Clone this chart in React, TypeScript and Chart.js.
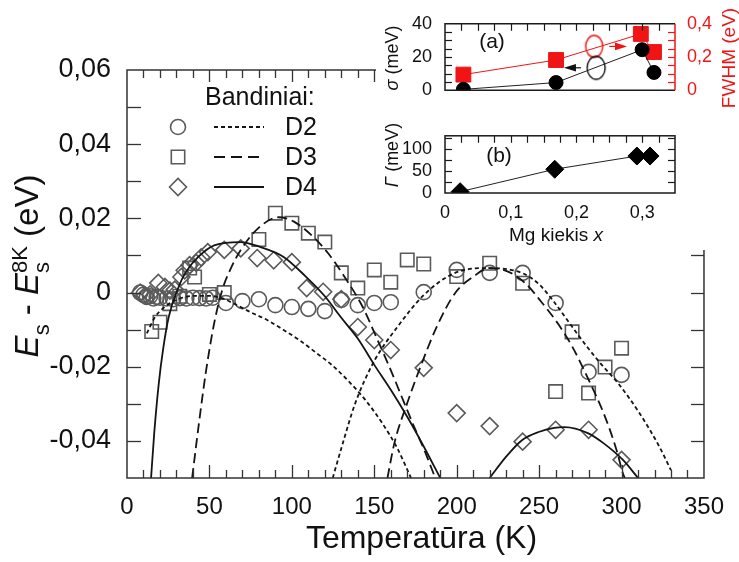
import React, { useEffect, useRef } from "react";
import { Chart, registerables } from "chart.js";

Chart.register(...registerables);

const FONT = "'Liberation Sans', Arial, Helvetica, sans-serif";
const RED = "#f01414";
const MARK = "#5a5a5a";
const INK = "#141414";

// ---------------- main panel: measured points (T in K, Es - Es8K in eV) ----------------
const d2Temp = [8, 10, 12, 14, 16, 18, 20, 24, 28, 32, 36, 40, 44, 48, 52, 60, 70, 80, 90, 100, 110, 120, 130, 140, 150, 160, 180, 200, 220, 240, 260, 280, 300];
const d2Shift = [0, -0.0006, -0.0012, -0.001, -0.0016, -0.0012, -0.0014, -0.0016, -0.0018, -0.0015, -0.0016, -0.0014, -0.0015, -0.0016, -0.0014, -0.0028, -0.0023, -0.0018, -0.0034, -0.0039, -0.0044, -0.005, -0.002, -0.0034, -0.0028, -0.0026, 0.0001, 0.0061, 0.0053, 0.0053, -0.0028, -0.0214, -0.0222];

const d3Temp = [15, 20, 26, 32, 38, 41, 50, 59, 80, 90, 100, 110, 120, 130, 140, 150, 160, 170, 180, 200, 220, 240, 260, 270, 280, 290, 300];
const d3Shift = [-0.0105, -0.008, -0.003, -0.001, 0.0066, 0.0042, -0.0005, 0.0, 0.0143, 0.0214, 0.0187, 0.016, 0.0136, 0.0053, 0.0012, 0.0061, 0.0028, 0.0088, 0.0077, 0.0043, 0.0079, 0.0025, -0.0267, -0.0106, -0.0271, -0.0201, -0.015];

const d4Temp = [8, 11, 14, 19, 23, 26, 29, 33, 35, 38, 42, 45, 49, 59, 69, 79, 89, 100, 109, 119, 130, 140, 150, 160, 180, 200, 220, 240, 260, 280, 300];
const d4Shift = [0, -0.0008, -0.0005, 0.0026, 0.0015, 0.0005, 0.0008, 0.0042, 0.006, 0.0074, 0.008, 0.0095, 0.0109, 0.0115, 0.0119, 0.0093, 0.0087, 0.0082, 0.0012, 0.0002, -0.0018, -0.0093, -0.0128, -0.0155, -0.0203, -0.0325, -0.036, -0.0402, -0.037, -0.037, -0.0451];

// ---------------- main panel: fitted curves ----------------
const d2FitLow = [[12, -0.011], [17, -0.0066], [22, -0.0042], [30, -0.002], [40, -0.0009], [50, -0.0009], [58, -0.0016], [64, -0.0028], [75, -0.0053], [85, -0.0074], [95, -0.0101], [104.5, -0.0128], [114.6, -0.0162], [124.7, -0.0197], [134.2, -0.0238], [144.3, -0.0288], [154.5, -0.035], [164, -0.042], [172.3, -0.05]];
const d2FitHigh = [[124.8, -0.05], [131, -0.0405], [138.4, -0.0299], [150.3, -0.0182], [164, -0.0093], [180, -0.0007], [199, 0.0053], [220, 0.0066], [240, 0.0052], [250, 0.0022], [259, -0.0025], [268, -0.008], [278, -0.014], [288, -0.0195], [298, -0.0245], [311, -0.0326], [323, -0.0416], [330, -0.0479]];
const d3FitLow = [[39.5, -0.05], [44, -0.034], [48, -0.021], [53, -0.008], [58, 0.001], [63, 0.0065], [69, 0.0115], [80, 0.0175], [92, 0.0203], [101, 0.0192], [113, 0.015], [122, 0.0106], [132, 0.0042], [143, -0.0039], [152, -0.0128], [160, -0.0209], [167, -0.0285], [174, -0.036], [181, -0.0432], [187, -0.05]];
const d3FitHigh = [[158, -0.05], [162.2, -0.0406], [170, -0.0298], [178.9, -0.019], [187.8, -0.0093], [199.1, -0.0001], [209.8, 0.0042], [220, 0.0066], [231.8, 0.0055], [241.4, 0.0026], [251.5, -0.0026], [261.6, -0.0085], [270, -0.0145], [280, -0.0235], [290, -0.0335], [297, -0.0425], [301, -0.049], [302, -0.05]];
const d4FitLow = [[14.6, -0.05], [16.5, -0.038], [19.3, -0.0244], [22, -0.015], [25.3, -0.0066], [31.3, 0.0015], [35.4, 0.0053], [43.2, 0.0096], [53.3, 0.0128], [68.8, 0.0136], [80.7, 0.0123], [95, 0.0096], [108, 0.0045], [120, -0.001], [130, -0.0068], [140, -0.0124], [150, -0.0195], [160, -0.0262], [170, -0.0335], [180, -0.0415], [190, -0.05]];
const d4FitHigh = [[220, -0.05], [229.5, -0.0445], [239.6, -0.0398], [249.7, -0.0376], [259.2, -0.0365], [265.4, -0.0363], [279.5, -0.0379], [289, -0.0406], [301, -0.0452], [310, -0.05]];

const mainXTicks = [0, 50, 100, 150, 200, 250, 300, 350];
const mainYTicks = [-0.04, -0.02, 0, 0.02, 0.04, 0.06];
const seriesNames = ["D2", "D3", "D4"];
const legendHeading = "Bandiniai:";
const xAxisTitle = "Temperatūra (K)";

// ---------------- inset data ----------------
const sigmaMg = [0.028, 0.169, 0.3, 0.318];
const sigmaMeV = [0.5, 4.6, 24.4, 10.7];
const fwhmMg = [0.028, 0.169, 0.298, 0.318];
const fwhmEV = [0.094, 0.182, 0.339, 0.23];
const sigmaOpen = [0.23, 13.5];
const fwhmOpen = [0.227, 0.264];
const sigmaArrow = [0.207, 0.181, 13.5];
const fwhmArrow = [0.25, 0.277, 0.264];
const gammaMg = [0.023, 0.167, 0.292, 0.312];
const gammaMeV = [3, 54, 84, 84];
const insetXTicks = [0, 0.1, 0.2, 0.3];
const sigmaTicks = [0, 10, 20, 30, 40];
const fwhmTicks = [0, 0.1, 0.2, 0.3, 0.4];
const gammaTicks = [0, 50, 100];

// ---------------- helpers ----------------
const pts = (xs: number[], ys: number[]) => xs.map((x, i) => ({ x, y: ys[i] }));
const pairPts = (p: number[][]) => p.map(([x, y]) => ({ x, y }));
const comma = (v: number, d: number) => (Math.abs(v) < 1e-9 ? "0" : v.toFixed(d).replace(".", ","));

const INSET_LEFT = 376;

function seg(ctx: CanvasRenderingContext2D, x1: number, y1: number, x2: number, y2: number) {
  ctx.beginPath();
  ctx.moveTo(x1, y1);
  ctx.lineTo(x2, y2);
  ctx.stroke();
}

function drawMarker(ctx: CanvasRenderingContext2D, kind: string, x: number, y: number) {
  ctx.save();
  ctx.strokeStyle = MARK;
  ctx.lineWidth = 1.6;
  ctx.setLineDash([]);
  ctx.beginPath();
  if (kind === "circle") ctx.arc(x, y, 7.5, 0, Math.PI * 2);
  else if (kind === "rect") ctx.rect(x - 6.7, y - 6.7, 13.4, 13.4);
  else {
    ctx.moveTo(x - 8.5, y);
    ctx.lineTo(x, y - 8.5);
    ctx.lineTo(x + 8.5, y);
    ctx.lineTo(x, y + 8.5);
    ctx.closePath();
  }
  ctx.stroke();
  ctx.restore();
}

type Part = { t: string; f: string; dy: number; stackWith?: boolean };

// draws rotated (reading bottom-to-top) rich text centred at cy with baseline at screen x = bx
function drawRotatedParts(ctx: CanvasRenderingContext2D, parts: Part[], bx: number, cy: number, color: string) {
  ctx.save();
  ctx.fillStyle = color;
  ctx.textBaseline = "alphabetic";
  ctx.textAlign = "left";
  const widths: number[] = [];
  let total = 0;
  parts.forEach((p, i) => {
    ctx.font = p.f;
    const w = ctx.measureText(p.t).width;
    widths.push(w);
    if (p.stackWith) {
      const prev = widths[i - 1];
      if (w > prev) total += w - prev;
    } else total += w;
  });
  ctx.translate(bx, cy);
  ctx.rotate(-Math.PI / 2);
  let x = -total / 2;
  let lastStart = x;
  let lastW = 0;
  parts.forEach((p, i) => {
    ctx.font = p.f;
    if (p.stackWith) {
      ctx.fillText(p.t, lastStart, p.dy);
      const w = Math.max(lastW, widths[i]);
      x = lastStart + w;
    } else {
      ctx.fillText(p.t, x, p.dy);
      lastStart = x;
      lastW = widths[i];
      x += widths[i];
    }
  });
  ctx.restore();
}

function drawArrow(ctx: CanvasRenderingContext2D, x0: number, y: number, x1: number, color: string) {
  const dir = Math.sign(x1 - x0);
  ctx.save();
  ctx.strokeStyle = color;
  ctx.fillStyle = color;
  ctx.lineWidth = 1.2;
  seg(ctx, x0, y, x1 - dir * 8, y);
  ctx.beginPath();
  ctx.moveTo(x1, y);
  ctx.lineTo(x1 - dir * 12, y - 3.8);
  ctx.lineTo(x1 - dir * 12, y + 3.8);
  ctx.closePath();
  ctx.fill();
  ctx.restore();
}

function ellipseImage(w: number, h: number, color: string) {
  const c = document.createElement("canvas");
  c.width = w + 4;
  c.height = h + 4;
  const g = c.getContext("2d")!;
  g.strokeStyle = color;
  g.lineWidth = 1.4;
  g.beginPath();
  g.ellipse(c.width / 2, c.height / 2, w / 2, h / 2, 0, 0, Math.PI * 2);
  g.stroke();
  return c;
}

// ---------------- main chart ----------------
const mainDecor = {
  id: "mainDecor",
  afterDatasetsDraw(chart: any) {
    const { ctx, chartArea, scales } = chart;
    const { left, right, top, bottom } = chartArea;
    const xs = scales.x;
    const ys = scales.y;
    ctx.save();
    ctx.strokeStyle = "#333";
    ctx.lineWidth = 1.5;
    ctx.setLineDash([]);
    ctx.strokeRect(left, top, right - left, bottom - top);
    ctx.lineWidth = 1.3;
    for (let t = 10; t < 350; t += 10) {
      const px = Math.round(xs.getPixelForValue(t)) + 0.5;
      const major = t % 50 === 0;
      seg(ctx, px, bottom, px, bottom - (major ? 13 : 8));
      seg(ctx, px, top, px, top + (major ? 12 : 8));
    }
    for (let k = -4; k <= 5; k++) {
      const py = Math.round(ys.getPixelForValue(k / 100)) + 0.5;
      seg(ctx, left, py, left + 14, py);
      seg(ctx, right, py, right - 13, py);
    }
    ctx.restore();
  },
  afterDraw(chart: any) {
    const { ctx, chartArea } = chart;
    ctx.save();
    // legend
    ctx.fillStyle = "#111";
    ctx.textAlign = "left";
    ctx.textBaseline = "middle";
    ctx.font = `25px ${FONT}`;
    ctx.fillText(legendHeading, 205, 98);
    const rows = [127, 157, 187];
    const kinds = ["circle", "rect", "rectRot"];
    const dashes = [[4, 3], [11, 6], []];
    rows.forEach((ry, i) => {
      drawMarker(ctx, kinds[i], 178, ry);
      ctx.strokeStyle = INK;
      ctx.lineWidth = 2;
      ctx.setLineDash(dashes[i]);
      seg(ctx, 214, ry, 264, ry);
      ctx.setLineDash([]);
      ctx.font = `25px ${FONT}`;
      ctx.fillText(seriesNames[i], 285, ry + 1);
    });
    // x title
    ctx.textAlign = "center";
    ctx.textBaseline = "alphabetic";
    ctx.font = `32px ${FONT}`;
    ctx.fillText(xAxisTitle, (chartArea.left + chartArea.right) / 2 + 6, 548);
    ctx.restore();
    // y title  E_s - E_s^8K (eV)
    const big = `33px ${FONT}`;
    const bigI = `italic 33px ${FONT}`;
    const small = `22px ${FONT}`;
    drawRotatedParts(
      ctx,
      [
        { t: "E", f: bigI, dy: 0 },
        { t: "s", f: small, dy: 11 },
        { t: " - ", f: big, dy: 0 },
        { t: "E", f: bigI, dy: 0 },
        { t: "s", f: small, dy: 11 },
        { t: "8K", f: small, dy: -11, stackWith: true },
        { t: " (eV)", f: big, dy: 0 },
      ],
      38,
      266,
      "#111"
    );
  },
};

function makeMain(canvas: HTMLCanvasElement) {
  const marker = {
    showLine: false,
    borderColor: MARK,
    backgroundColor: "rgba(0,0,0,0)",
    pointBorderColor: MARK,
    pointBackgroundColor: "rgba(0,0,0,0)",
    pointBorderWidth: 1.6,
  };
  const curve = {
    showLine: true,
    pointRadius: 0,
    borderColor: INK,
    borderWidth: 1.8,
    cubicInterpolationMode: "monotone",
    fill: false,
  };
  return new Chart(canvas, {
    type: "scatter",
    data: {
      datasets: [
        { ...curve, label: "D2 fit a", data: pairPts(d2FitLow), borderDash: [4, 3] },
        { ...curve, label: "D2 fit b", data: pairPts(d2FitHigh), borderDash: [4, 3] },
        { ...curve, label: "D3 fit a", data: pairPts(d3FitLow), borderDash: [10, 5] },
        { ...curve, label: "D3 fit b", data: pairPts(d3FitHigh), borderDash: [10, 5] },
        { ...curve, label: "D4 fit a", data: pairPts(d4FitLow) },
        { ...curve, label: "D4 fit b", data: pairPts(d4FitHigh) },
        { ...marker, label: "D2", data: pts(d2Temp, d2Shift), pointStyle: "circle", pointRadius: 7.5 },
        { ...marker, label: "D3", data: pts(d3Temp, d3Shift), pointStyle: "rect", pointRadius: 9.5 },
        { ...marker, label: "D4", data: pts(d4Temp, d4Shift), pointStyle: "rectRot", pointRadius: 8.5 },
      ] as any,
    },
    options: {
      responsive: false,
      animation: false,
      events: [],
      layout: { padding: { left: 0, top: 70, right: 24, bottom: 0 } },
      plugins: { legend: { display: false }, tooltip: { enabled: false } },
      scales: {
        x: {
          type: "linear",
          min: 0,
          max: 350,
          grid: { display: false, drawTicks: false },
          border: { display: false },
          ticks: { font: { family: FONT, size: 24 }, color: "#111", padding: 15, maxRotation: 0, autoSkip: false, callback: (v: any) => String(v) },
          afterBuildTicks: (s: any) => {
            s.ticks = mainXTicks.map((v) => ({ value: v }));
          },
          afterFit: (s: any) => {
            s.height = 84;
          },
        },
        y: {
          type: "linear",
          min: -0.05,
          max: 0.06,
          grid: { display: false, drawTicks: false },
          border: { display: false },
          ticks: { font: { family: FONT, size: 27 }, color: "#111", padding: 16, autoSkip: false, callback: (v: any) => comma(Number(v), 2) },
          afterBuildTicks: (s: any) => {
            s.ticks = mainYTicks.map((v) => ({ value: v }));
          },
          afterFit: (s: any) => {
            s.width = 127;
          },
        },
      },
    } as any,
    plugins: [mainDecor],
  });
}

// ---------------- inset (a) ----------------
const insetADecor = {
  id: "insetADecor",
  afterDatasetsDraw(chart: any) {
    const { ctx, chartArea, scales } = chart;
    const { left, right, top, bottom } = chartArea;
    const { x, y, y2 } = scales;
    ctx.save();
    ctx.lineWidth = 1.5;
    ctx.strokeStyle = "#1a1a1a";
    ctx.beginPath();
    ctx.moveTo(right, top);
    ctx.lineTo(left, top);
    ctx.lineTo(left, bottom);
    ctx.lineTo(right, bottom);
    ctx.stroke();
    ctx.lineWidth = 1.2;
    for (let k = 1; k < 14; k++) {
      const px = Math.round(x.getPixelForValue(k * 0.025)) + 0.5;
      seg(ctx, px, top, px, top + 7);
    }
    for (let v = 5; v < 40; v += 5) {
      const py = Math.round(y.getPixelForValue(v)) + 0.5;
      seg(ctx, left, py, left + 7, py);
    }
    ctx.strokeStyle = RED;
    ctx.lineWidth = 1.5;
    seg(ctx, right, top, right, bottom);
    ctx.lineWidth = 1.2;
    for (let k = 1; k < 8; k++) {
      const py = Math.round(y2.getPixelForValue(k * 0.05)) + 0.5;
      seg(ctx, right, py, right - 7, py);
    }
    drawArrow(ctx, x.getPixelForValue(sigmaArrow[0]), y.getPixelForValue(sigmaArrow[2]), x.getPixelForValue(sigmaArrow[1]), "#111");
    drawArrow(ctx, x.getPixelForValue(fwhmArrow[0]), y2.getPixelForValue(fwhmArrow[2]), x.getPixelForValue(fwhmArrow[1]), RED);
    ctx.fillStyle = "#111";
    ctx.font = `21px ${FONT}`;
    ctx.textAlign = "center";
    ctx.textBaseline = "middle";
    ctx.fillText("(a)", 492 - INSET_LEFT, 42);
    ctx.restore();
    drawRotatedParts(ctx, [{ t: "σ", f: `italic 18px ${FONT}`, dy: 0 }, { t: " (meV)", f: `18px ${FONT}`, dy: 0 }], 398 - INSET_LEFT, 58, "#111");
    drawRotatedParts(ctx, [{ t: "FWHM (eV)", f: `19px ${FONT}`, dy: 0 }], 735 - INSET_LEFT, 58, RED);
  },
};

function makeInsetA(canvas: HTMLCanvasElement) {
  return new Chart(canvas, {
    type: "scatter",
    data: {
      datasets: [
        { data: pts(sigmaMg, sigmaMeV), yAxisID: "y", showLine: true, borderColor: "#222", borderWidth: 1, pointStyle: "circle", pointRadius: 7, pointBackgroundColor: "#000", pointBorderColor: "#000", pointBorderWidth: 1 },
        { data: pts(fwhmMg, fwhmEV), yAxisID: "y2", showLine: true, borderColor: RED, borderWidth: 1, pointStyle: "rect", pointRadius: 10.5, pointBackgroundColor: RED, pointBorderColor: RED, pointBorderWidth: 1 },
        { data: [{ x: sigmaOpen[0], y: sigmaOpen[1] }], yAxisID: "y", showLine: false, pointStyle: ellipseImage(18, 23, "#111"), pointRadius: 10 },
        { data: [{ x: fwhmOpen[0], y: fwhmOpen[1] }], yAxisID: "y2", showLine: false, pointStyle: ellipseImage(17, 22, RED), pointRadius: 10 },
      ] as any,
    },
    options: {
      responsive: false,
      animation: false,
      events: [],
      layout: { padding: { left: 0, top: 10, right: 0, bottom: 6 } },
      plugins: { legend: { display: false }, tooltip: { enabled: false } },
      scales: {
        x: { type: "linear", display: false, min: 0, max: 0.35 },
        y: {
          type: "linear",
          position: "left",
          min: 0,
          max: 40,
          grid: { display: false, drawTicks: false },
          border: { display: false },
          ticks: { font: { family: FONT, size: 18 }, color: "#111", padding: 13, callback: (v: any) => String(v) },
          afterBuildTicks: (s: any) => {
            s.ticks = sigmaTicks.map((v) => ({ value: v }));
          },
          afterFit: (s: any) => {
            s.width = 445 - INSET_LEFT;
          },
        },
        y2: {
          type: "linear",
          position: "right",
          min: 0,
          max: 0.4,
          grid: { display: false, drawTicks: false },
          border: { display: false },
          ticks: { font: { family: FONT, size: 18 }, color: RED, padding: 12, callback: (v: any) => comma(Number(v), 1) },
          afterBuildTicks: (s: any) => {
            s.ticks = fwhmTicks.map((v) => ({ value: v }));
          },
          afterFit: (s: any) => {
            s.width = 64;
          },
        },
      },
    } as any,
    plugins: [insetADecor],
  });
}

// ---------------- inset (b) ----------------
const insetBDecor = {
  id: "insetBDecor",
  afterDatasetsDraw(chart: any) {
    const { ctx, chartArea, scales } = chart;
    const { left, right, top, bottom } = chartArea;
    const { x, y } = scales;
    ctx.save();
    ctx.lineWidth = 1.5;
    ctx.strokeStyle = "#1a1a1a";
    ctx.strokeRect(left, top, right - left, bottom - top);
    ctx.lineWidth = 1.2;
    for (let k = 1; k < 14; k++) {
      const px = Math.round(x.getPixelForValue(k * 0.025)) + 0.5;
      seg(ctx, px, top, px, top + 7);
    }
    for (let v = 25; v < 130; v += 25) {
      const py = Math.round(y.getPixelForValue(v)) + 0.5;
      seg(ctx, left, py, left + 7, py);
      seg(ctx, right, py, right - 7, py);
    }
    ctx.fillStyle = "#111";
    ctx.font = `21px ${FONT}`;
    ctx.textAlign = "center";
    ctx.textBaseline = "middle";
    ctx.fillText("(b)", 499 - INSET_LEFT, 44);
    // x title: Mg kiekis x
    ctx.textBaseline = "alphabetic";
    ctx.textAlign = "left";
    const f1 = `19px ${FONT}`;
    const f2 = `italic 19px ${FONT}`;
    ctx.font = f1;
    const w1 = ctx.measureText("Mg kiekis ").width;
    ctx.font = f2;
    const w2 = ctx.measureText("x").width;
    const x0 = 556 - INSET_LEFT - (w1 + w2) / 2;
    ctx.font = f1;
    ctx.fillText("Mg kiekis ", x0, 129);
    ctx.font = f2;
    ctx.fillText("x", x0 + w1, 129);
    ctx.restore();
    drawRotatedParts(ctx, [{ t: "Γ", f: `italic 18px ${FONT}`, dy: 0 }, { t: " (meV)", f: `18px ${FONT}`, dy: 0 }], 398 - INSET_LEFT, 43, "#111");
  },
};

function makeInsetB(canvas: HTMLCanvasElement) {
  return new Chart(canvas, {
    type: "scatter",
    data: {
      datasets: [
        { data: pts(gammaMg, gammaMeV), showLine: true, borderColor: "#222", borderWidth: 1, pointStyle: "rectRot", pointRadius: 9, pointBackgroundColor: "#000", pointBorderColor: "#000", pointBorderWidth: 1 },
      ] as any,
    },
    options: {
      responsive: false,
      animation: false,
      events: [],
      layout: { padding: { left: 0, top: 8, right: 64, bottom: 0 } },
      plugins: { legend: { display: false }, tooltip: { enabled: false } },
      scales: {
        x: {
          type: "linear",
          min: 0,
          max: 0.35,
          grid: { display: false, drawTicks: false },
          border: { display: false },
          ticks: { font: { family: FONT, size: 18 }, color: "#111", padding: 9, maxRotation: 0, autoSkip: false, callback: (v: any) => comma(Number(v), 1) },
          afterBuildTicks: (s: any) => {
            s.ticks = insetXTicks.map((v) => ({ value: v }));
          },
          afterFit: (s: any) => {
            s.height = 57;
          },
        },
        y: {
          type: "linear",
          min: 0,
          max: 130,
          grid: { display: false, drawTicks: false },
          border: { display: false },
          ticks: { font: { family: FONT, size: 18 }, color: "#111", padding: 13, callback: (v: any) => String(v) },
          afterBuildTicks: (s: any) => {
            s.ticks = gammaTicks.map((v) => ({ value: v }));
          },
          afterFit: (s: any) => {
            s.width = 445 - INSET_LEFT;
          },
        },
      },
    } as any,
    plugins: [insetBDecor],
  });
}

export default function App() {
  const mainRef = useRef<HTMLCanvasElement>(null);
  const aRef = useRef<HTMLCanvasElement>(null);
  const bRef = useRef<HTMLCanvasElement>(null);
  useEffect(() => {
    const charts = [makeMain(mainRef.current!), makeInsetA(aRef.current!), makeInsetB(bRef.current!)];
    return () => charts.forEach((c) => c.destroy());
  }, []);
  const w = 739 - INSET_LEFT;
  return (
    <div style={{ position: "absolute", left: 0, top: 0, width: 739, height: 562, background: "#fff", overflow: "hidden" }}>
      <canvas ref={mainRef} width={739} height={562} style={{ position: "absolute", left: 0, top: 0, width: 739, height: 562 }} />
      <div style={{ position: "absolute", left: INSET_LEFT, top: 0, width: w, height: 250, background: "#fff" }}>
        <canvas ref={aRef} width={w} height={114} style={{ position: "absolute", left: 0, top: 0, width: w, height: 114 }} />
        <canvas ref={bRef} width={w} height={138} style={{ position: "absolute", left: 0, top: 112, width: w, height: 138 }} />
      </div>
    </div>
  );
}
